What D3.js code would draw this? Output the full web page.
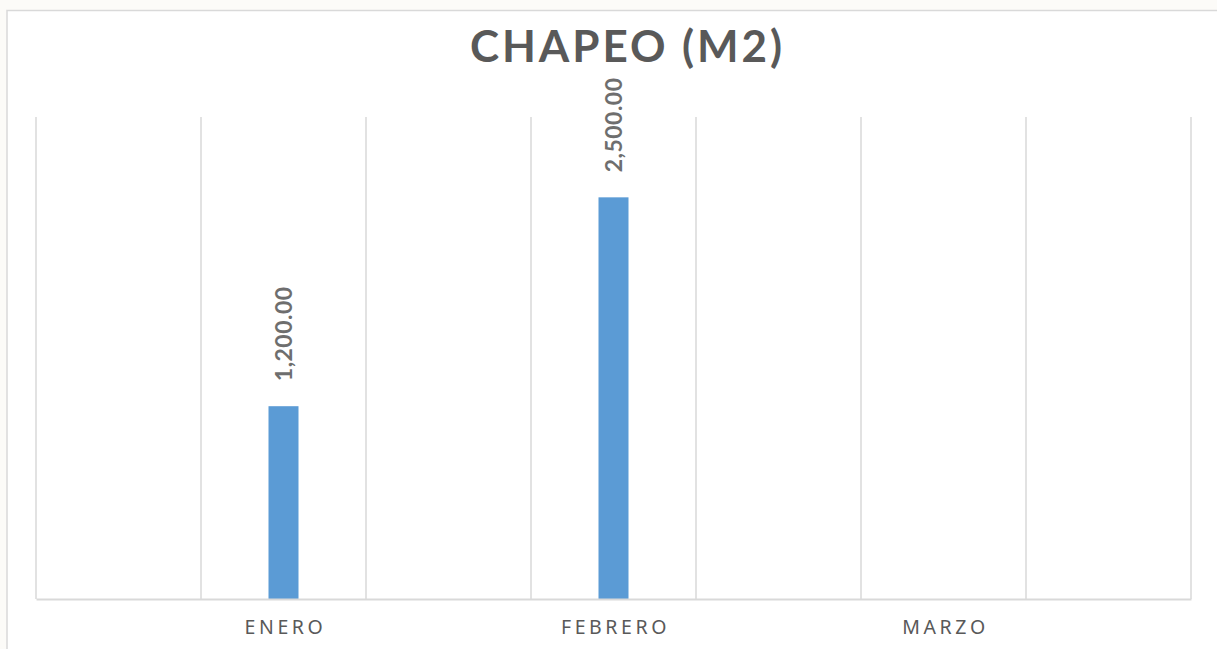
<!DOCTYPE html>
<html>
<head>
<meta charset="utf-8">
<script src="https://cdn.jsdelivr.net/npm/d3@7"></script>
<style>
  html, body { margin: 0; padding: 0; background: #fcfbf8; overflow: hidden; }
  svg { display: block; }
</style>
</head>
<body>
<svg id="chart" width="1217" height="649"></svg>
<script>
// ---- data ----
const title = "CHAPEO (M2)";
const categories = ["ENERO", "FEBRERO", "MARZO"];
const values = [1200, 2500, null];
const yDomain = [0, 3000];
const slotCount = 7; // category slots on the axis (each category occupies every other slot)

// ---- layout ----
const W = 1217, H = 649;
const plot = { left: 36, right: 1191, top: 117, bottom: 599 };

const svg = d3.select("#chart");

// chart area background + border
svg.append("rect")
  .attr("x", 7).attr("y", 10.5)
  .attr("width", W + 20).attr("height", H + 20)
  .attr("fill", "#ffffff")
  .attr("stroke", "#d9d9d9").attr("stroke-width", 1.5);

const x = d3.scaleBand()
  .domain(d3.range(slotCount))
  .range([plot.left, plot.right])
  .paddingInner(0).paddingOuter(0);

const y = d3.scaleLinear().domain(yDomain).range([plot.bottom, plot.top]);

const slotOf = i => i * 2 + 1;

// vertical gridlines at slot boundaries
const bounds = d3.range(slotCount + 1).map(k => plot.left + k * x.bandwidth());
svg.append("g").selectAll("line").data(bounds).join("line")
  .attr("x1", d => d).attr("x2", d => d)
  .attr("y1", plot.top).attr("y2", plot.bottom)
  .attr("stroke", "#d9d9d9").attr("stroke-width", 1.5);

// bars
const barW = 30;
const data = categories.map((c, i) => ({ c, v: values[i], slot: slotOf(i) }));
svg.append("g").selectAll("rect")
  .data(data.filter(d => d.v != null))
  .join("rect")
  .attr("x", d => x(d.slot) + x.bandwidth() / 2 - barW / 2)
  .attr("y", d => y(d.v))
  .attr("width", barW)
  .attr("height", d => y(0) - y(d.v))
  .attr("fill", "#5b9bd5");

// baseline (category axis)
const xAxis = d3.axisBottom(x)
  .tickSize(0)
  .tickFormat(s => { const i = (s - 1) / 2; return Number.isInteger(i) && categories[i] ? categories[i] : ""; });
const gx = svg.append("g").attr("transform", `translate(0,${plot.bottom})`).call(xAxis);
gx.select(".domain").attr("stroke", "#d9d9d9").attr("stroke-width", 2);
gx.selectAll("text")
  .attr("dy", 0).attr("y", 35).attr("dx", 2)
  .attr("fill", "#595959")
  .style("font-family", "'Noto Sans', 'Open Sans', sans-serif")
  .style("font-size", "19.5px")
  .style("letter-spacing", "3.6px")
  .style("font-weight", "400");

// data labels (rotated)
const fmt = d3.format(",.2f");
svg.append("g").selectAll("text")
  .data(data.filter(d => d.v != null))
  .join("text")
  .attr("transform", d => `translate(${x(d.slot) + x.bandwidth() / 2 + 8},${y(d.v) - 25}) rotate(-90)`)
  .attr("text-anchor", "start")
  .attr("fill", "#6e6e6e")
  .style("font-family", "'Lato', 'Open Sans', sans-serif")
  .style("font-weight", "700")
  .style("font-size", "23px")
  .style("letter-spacing", "0.5px")
  .text(d => fmt(d.v));

// title
svg.append("text")
  .attr("x", 626).attr("y", 62)
  .attr("text-anchor", "middle")
  .attr("fill", "#595959")
  .attr("textLength", 312)
  .attr("lengthAdjust", "spacing")
  .style("font-family", "'Lato', 'Open Sans', sans-serif")
  .style("font-weight", "700")
  .style("font-size", "44px")
  .text(title);
</script>
</body>
</html>
